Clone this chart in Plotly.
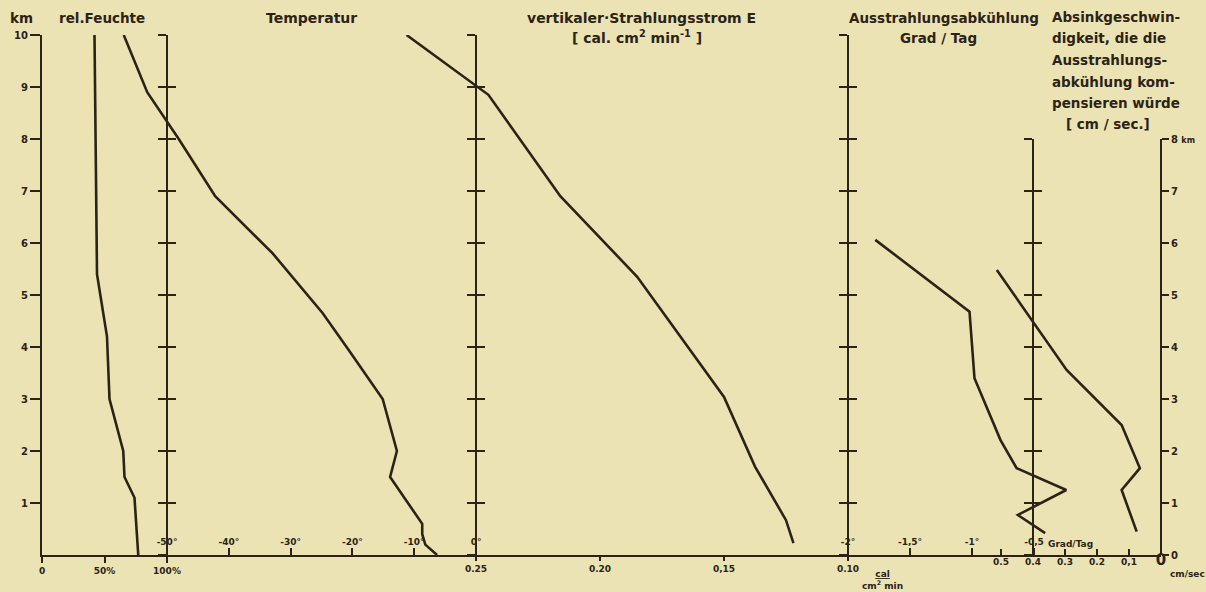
import plotly.graph_objects as go

# ---------------- data ----------------
hum_km = [10, 5.4, 4.2, 3.0, 2.0, 1.5, 1.1, 0]
hum_pct = [42, 44, 52, 54, 65, 66, 74, 77]

temp_km = [10, 8.9, 8.0, 6.9, 5.8, 4.65, 3.94, 3.0, 2.0, 1.5, 0.6, 0.4, 0.2, 0]
temp_c = [-57.0, -53.2, -48.1, -42.2, -32.9, -24.8, -20.6, -15.1, -12.8, -13.9,
          -8.7, -8.7, -8.2, -6.3]

rad_km = [10, 9.05, 8.85, 6.9, 5.35, 3.04, 1.7, 0.67, 0.23]
rad_E = [0.278, 0.251, 0.245, 0.216, 0.185, 0.150, 0.1375, 0.125, 0.122]

cool_km = [6.06, 4.68, 3.40, 2.21, 1.67, 1.25, 0.77, 0.42]
cool_deg = [-1.78, -1.02, -0.98, -0.77, -0.64, -0.24, -0.63, -0.41]

sink_km = [5.48, 3.56, 2.5, 1.67, 1.25, 0.45]
sink_cms = [0.513, 0.295, 0.123, 0.066, 0.123, 0.076]

km_ticks = list(range(0, 11))
km_ticks_short = list(range(0, 9))
km_ticktext = [str(v) for v in km_ticks]
km_ticktext_right = [str(v) for v in range(0, 8)] + ["8 <span style='font-size:8px'>km</span>"]

hum_tickvals = [0, 50, 100]
hum_ticktext = ["0", "50%", "100%"]
temp_tickvals = [-50, -40, -30, -20, -10, 0]
temp_ticktext = ["-50°", "-40°", "-30°", "-20°", "-10°", "0°"]
rad_tickvals = [0.25, 0.20, 0.15, 0.10]
rad_ticktext = ["0.25", "0.20", "0,15", "0.10"]
cool_tickvals = [-2, -1.5, -1, -0.5]
cool_ticktext = ["-2°", "-1,5°", "-1°", "-0,5"]
sink_tickvals = [0.5, 0.4, 0.3, 0.2, 0.1, 0]
sink_ticktext = ["0.5", "0.4", "0.3", "0.2", "0,1", "<span style='font-size:15px'>0</span>"]

# ---------------- layout calibration ----------------
W, H = 1206, 592
PL, PR, PT, PB = 42, 1161, 35, 555
INK = "#2b2415"
BG = "#ece3b5"
FONT = "DejaVu Sans"


def rng(v0, p0, k):
    """axis range so that value v0 sits at pixel p0 with k px per unit"""
    return [v0 + (PL - p0) / k, v0 + (PR - p0) / k]


def fx(px):
    return (px - PL) / (PR - PL)


def fy(py):
    return (PB - py) / (PB - PT)


fig = go.Figure()
line = dict(color=INK, width=2.6)
fig.add_trace(go.Scatter(x=hum_pct, y=hum_km, mode="lines", line=line, xaxis="x", yaxis="y"))
fig.add_trace(go.Scatter(x=temp_c, y=temp_km, mode="lines", line=line, xaxis="x2", yaxis="y"))
fig.add_trace(go.Scatter(x=rad_E, y=rad_km, mode="lines", line=line, xaxis="x3", yaxis="y"))
fig.add_trace(go.Scatter(x=cool_deg, y=cool_km, mode="lines", line=line, xaxis="x4", yaxis="y"))
fig.add_trace(go.Scatter(x=sink_cms, y=sink_km, mode="lines", line=line, xaxis="x5", yaxis="y"))

tickfont = dict(family=FONT, size=9, color=INK, weight="bold")
base_x = dict(showgrid=False, zeroline=False, fixedrange=True, tickcolor=INK,
              tickwidth=2, tickfont=tickfont, anchor="y", side="bottom")

layout = dict(
    width=W, height=H, paper_bgcolor=BG, plot_bgcolor="rgba(0,0,0,0)", showlegend=False,
    margin=dict(l=PL, r=W - PR, t=PT, b=H - PB, autoexpand=False),
    xaxis=dict(base_x, range=rng(0, 42, 1.25), tickvals=hum_tickvals, ticktext=hum_ticktext,
               ticks="outside", ticklen=6, showline=True, linecolor=INK, linewidth=2),
    xaxis2=dict(base_x, overlaying="x", range=rng(-50, 167, 6.18), tickvals=temp_tickvals,
                ticktext=temp_ticktext, ticks="inside", ticklen=7, ticklabelposition="inside",
                showline=False),
    xaxis3=dict(base_x, overlaying="x", range=rng(0.25, 476, -2480), tickvals=rad_tickvals,
                ticktext=rad_ticktext, ticks="outside", ticklen=5, showline=False),
    xaxis4=dict(base_x, overlaying="x", range=rng(-2, 848, 124), tickvals=cool_tickvals,
                ticktext=cool_ticktext, ticks="inside", ticklen=7, ticklabelposition="inside",
                showline=False),
    xaxis5=dict(base_x, overlaying="x", range=rng(0, 1161, -320), tickvals=sink_tickvals,
                ticktext=sink_ticktext, ticks="inside", ticklen=6, showline=False),
    yaxis=dict(range=[0, 10], domain=[0, 1], showgrid=False, zeroline=False, fixedrange=True,
               tickvals=km_ticks, ticktext=km_ticktext, ticks="outside", ticklen=10,
               tickwidth=2, tickcolor=INK, showline=True, linecolor=INK, linewidth=2.2,
               tickfont=dict(family=FONT, size=10, color=INK, weight="bold")),
)

vscale = dict(anchor="free", side="left", showgrid=False, zeroline=False, fixedrange=True,
              showticklabels=False, ticklen=8, tickwidth=1.6, tickcolor=INK,
              showline=True, linecolor=INK, linewidth=1.8)

# crossing vertical 0-10 km scales (one axis with ticks left, one with ticks right)
n = 2
for px in (167, 476, 848):
    for tk in ("outside", "inside"):
        layout[f"yaxis{n}"] = dict(vscale, overlaying="y", position=fx(px), range=[0, 10],
                                   tickvals=km_ticks, ticks=tk)
        fig.add_trace(go.Scatter(x=[None], y=[None], xaxis="x", yaxis=f"y{n}",
                                 hoverinfo="skip"))
        n += 1

# crossing 0-8 km scale at the -0.5 Grad/Tag / 0.4 cm/sec position (own, shorter domain)
base8 = n
layout[f"yaxis{n}"] = dict(vscale, domain=[0, 0.8], position=fx(1033), range=[0, 8],
                           tickvals=km_ticks_short, ticks="outside")
fig.add_trace(go.Scatter(x=[None], y=[None], xaxis="x", yaxis=f"y{n}", hoverinfo="skip"))
n += 1
layout[f"yaxis{n}"] = dict(vscale, overlaying=f"y{base8}", position=fx(1033), range=[0, 8],
                           tickvals=km_ticks_short, ticks="inside")
fig.add_trace(go.Scatter(x=[None], y=[None], xaxis="x", yaxis=f"y{n}", hoverinfo="skip"))
n += 1

# right-hand km scale (0-8 km) with labels
layout[f"yaxis{n}"] = dict(overlaying=f"y{base8}", anchor="free", position=1.0, side="right",
                           range=[0, 8], showgrid=False, zeroline=False,
                           fixedrange=True, tickvals=km_ticks_short, ticktext=km_ticktext_right,
                           ticks="outside", ticklen=7, tickwidth=1.6, tickcolor=INK,
                           showline=True, linecolor=INK, linewidth=1.8,
                           tickfont=dict(family=FONT, size=10, color=INK, weight="bold"))
fig.add_trace(go.Scatter(x=[None], y=[None], xaxis="x", yaxis=f"y{n}", hoverinfo="skip"))

fig.update_layout(**layout)

tf = dict(family=FONT, size=14, color=INK, weight="bold")
tf2 = dict(family=FONT, size=13.5, color=INK, weight="bold")
sf = dict(family=FONT, size=9, color=INK, weight="bold")
ann = [
    ("km", 21, 18, "center", tf2),
    ("rel.Feuchte", 102, 18, "center", tf2),
    ("Temperatur", 311, 18, "center", tf),
    ("vertikaler·Strahlungsstrom E", 641, 18, "center", tf),
    ("[ cal. cm<sup>2</sup> min<sup>-1</sup> ]", 637, 37, "center", tf),
    ("Ausstrahlungsabkühlung", 944, 18, "center", tf2),
    ("Grad / Tag", 938, 38, "center", tf2),
    ("Absinkgeschwin-", 1050, 17, "left", tf2),
    ("digkeit, die die", 1050, 38, "left", tf2),
    ("Ausstrahlungs-", 1050, 60, "left", tf2),
    ("abkühlung kom-", 1050, 82, "left", tf2),
    ("pensieren würde", 1050, 103, "left", tf2),
    ("[ cm / sec.]", 1064, 124, "left", tf2),
    ("Grad/Tag", 1046, 544, "left", sf),
    ("cm/sec", 1168, 574, "left", sf),
    ("<u>cal</u><br>cm<sup>2</sup> min", 860, 580, "left", sf),
]
for text, px, py, xa, font in ann:
    fig.add_annotation(text=text, x=fx(px), y=fy(py), xref="paper", yref="paper",
                       xanchor=xa, yanchor="middle", showarrow=False, font=font)

fig.write_html("out.html", config={"displayModeBar": False},
               post_script="document.body.style.margin='0';document.body.style.overflow='hidden';")
